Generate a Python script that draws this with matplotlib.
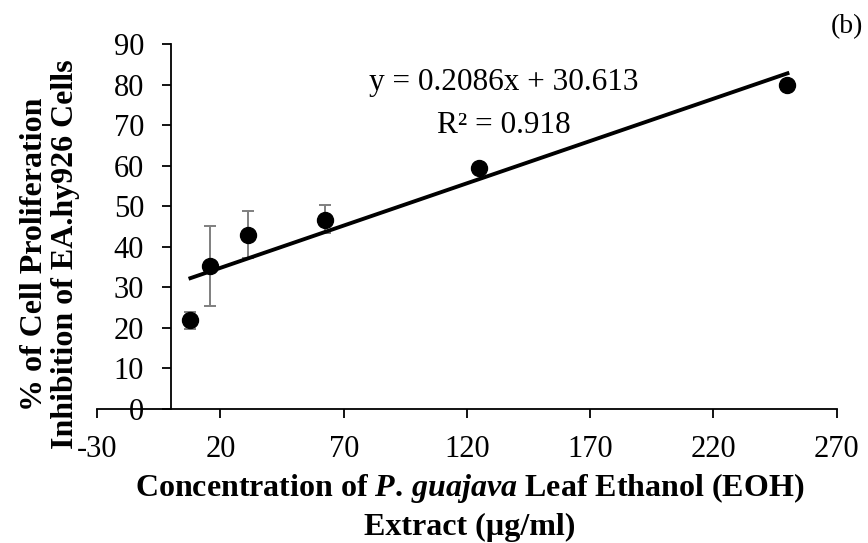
import numpy as np
import matplotlib.pyplot as plt

plt.rcParams['font.family'] = ['Liberation Serif', 'DejaVu Serif']
plt.rcParams['axes.unicode_minus'] = False
plt.rcParams['mathtext.fontset'] = 'custom'
plt.rcParams['mathtext.rm'] = 'Liberation Serif:bold'
plt.rcParams['mathtext.it'] = 'Liberation Serif:italic:bold'
plt.rcParams['mathtext.bf'] = 'Liberation Serif:bold'

conc = [7.8125, 15.625, 31.25, 62.5, 125, 250]
inhibition = [21.8, 35.3, 43.0, 46.5, 59.4, 80.0]
err_low = [2.1, 9.9, 5.8, 3.2, 0.0, 0.0]
err_high = [2.2, 9.7, 5.8, 3.8, 0.0, 0.0]
slope, intercept = 0.2086, 30.613
eq_text = 'y = 0.2086x + 30.613'
r2_text = 'R² = 0.918'

fig = plt.figure(figsize=(8.68, 5.43), dpi=100)
ax = fig.add_axes([0.112, 0.247, 0.852, 0.672])

ax.errorbar(conc, inhibition, yerr=[err_low, err_high], fmt='none',
            ecolor='#7f7f7f', elinewidth=1.4, capsize=4.5, capthick=1.4, zorder=2)
ax.plot(conc, inhibition, 'o', color='black', markersize=11.5, zorder=4)

# trendline from the excel fit
xs = np.array([conc[0], conc[-1]])
ax.plot(xs, slope * xs + intercept, color='black', linewidth=2.8, zorder=3)

ax.set_xlim(-30, 270)
ax.set_ylim(0, 90)
ax.set_xticks(np.arange(-30, 271, 50))
ax.set_yticks(np.arange(0, 91, 10))

ax.spines['left'].set_position(('data', 0))
ax.spines['top'].set_visible(False)
ax.spines['right'].set_visible(False)
ax.spines['left'].set_linewidth(1.3)
ax.spines['bottom'].set_linewidth(1.3)
ax.tick_params(axis='both', labelsize=22, width=1.3, length=6.5, direction='out')
ax.tick_params(axis='x', pad=12)
ax.tick_params(axis='y', pad=13)

ax.text(135, 80.5, eq_text, ha='center', va='center', fontsize=22.5)
ax.text(135, 70, r2_text, ha='center', va='center', fontsize=22.5)

fig.text(50 / 868, 1 - 254 / 543, '% of Cell Proliferation\nInhibition of EA.hy926 Cells',
         rotation=90, ha='center', va='center', fontsize=23, fontweight='bold',
         multialignment='center', linespacing=1.05)
fig.text(470 / 868, 1 - 488 / 543,
         r'Concentration of $\mathit{P.\,guajava}$ Leaf Ethanol (EOH)',
         ha='center', va='center', fontsize=23, fontweight='bold')
fig.text(470 / 868, 1 - 527 / 543, 'Extract (µg/ml)',
         ha='center', va='center', fontsize=23, fontweight='bold')
fig.text(847 / 868, 1 - 27 / 543, '(b)', ha='center', va='center', fontsize=20)

fig.savefig('out.png', dpi=100)
